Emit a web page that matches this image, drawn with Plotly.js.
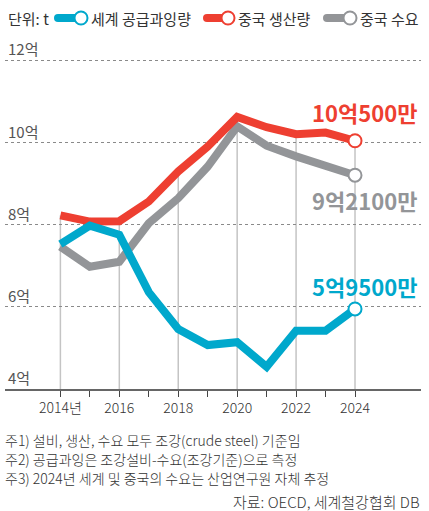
<!DOCTYPE html>
<html>
<head>
<meta charset="utf-8">
<script src="https://cdn.plot.ly/plotly-3.0.1.min.js"></script>
<style>
html,body{margin:0;padding:0;background:#fff;}
#chart{width:429px;height:511px;}
</style>
</head>
<body>
<div id="chart"></div>
<script>
// ---- data (values in 억 t) ----
const years = [2014, 2015, 2016, 2017, 2018, 2019, 2020, 2021, 2022, 2023, 2024];
const worldExcess = [7.53, 7.98, 7.76, 6.36, 5.46, 5.07, 5.14, 4.54, 5.42, 5.42, 5.95];
const chinaProduction = [8.23, 8.08, 8.09, 8.57, 9.30, 9.91, 10.63, 10.38, 10.21, 10.25, 10.05];
const chinaDemand = [7.47, 6.98, 7.10, 8.04, 8.65, 9.42, 10.40, 9.93, 9.67, 9.44, 9.21];
const seriesNames = ['세계 공급과잉량', '중국 생산량', '중국 수요'];
const endLabels = ['5억9500만', '10억500만', '9억2100만'];
const yTickVals = [4, 6, 8, 10, 12];
const yTickText = ['4억', '6억', '8억', '10억', '12억'];
const xLabelYears = [2014, 2016, 2018, 2020, 2022, 2024];
const xLabelText = ['2014년', '2016', '2018', '2020', '2022', '2024'];
const notes = [
  '주1) 설비, 생산, 수요 모두 조강(crude steel) 기준임',
  '주2) 공급과잉은 조강설비-수요(조강기준)으로 측정',
  '주3) 2024년 세계 및 중국의 수요는 산업연구원 자체 추정'
];
const source = '자료: OECD, 세계철강협회 DB';

// ---- styling ----
const BLUE = '#00a8cc', RED = '#ee3f31', GRAY = '#939598';
const FONT = '"Noto Sans CJK KR", "Noto Sans", sans-serif';
const W = 429, H = 511;
const L = 5, R = 421, T = 30, B = 389;
const PXPERUNIT = 41;
const px = x => (x - L) / (R - L);
const py = y => (B - y) / (B - T);
const last = a => a[a.length - 1];

function lineTrace(y, color, name) {
  return {x: years, y: y, mode: 'lines', name: name,
    line: {color: color, width: 8}, hoverinfo: 'skip', showlegend: false};
}
function endMarker(y, color) {
  return {x: [last(years)], y: [last(y)], mode: 'markers', showlegend: false, hoverinfo: 'skip',
    marker: {size: 13, color: '#fff', line: {color: color, width: 2}}};
}

const traces = [
  lineTrace(chinaDemand, GRAY, seriesNames[2]),
  lineTrace(chinaProduction, RED, seriesNames[1]),
  lineTrace(worldExcess, BLUE, seriesNames[0]),
  endMarker(chinaDemand, GRAY),
  endMarker(chinaProduction, RED),
  endMarker(worldExcess, BLUE)
];

// vertical drop lines at even years up to the production line
const shapes = [];
xLabelYears.forEach(yr => {
  const i = years.indexOf(yr);
  shapes.push({type: 'line', layer: 'below', xref: 'x', yref: 'y',
    x0: yr, x1: yr, y0: yTickVals[0], y1: chinaProduction[i],
    line: {color: '#c4c4c4', width: 1.5}});
});

// legend built with shapes + annotations
const annotations = [];
const legY = 18;
annotations.push({xref: 'paper', yref: 'paper', x: px(6), y: py(legY), xanchor: 'left', yanchor: 'middle',
  text: '단위: t', showarrow: false, font: {family: FONT, size: 15, color: '#333'}});
const legItems = [
  {x0: 55, cx: 81, tx: 89, color: BLUE, name: seriesNames[0]},
  {x0: 204, cx: 228, tx: 236, color: RED, name: seriesNames[1]},
  {x0: 324, cx: 350, tx: 358, color: GRAY, name: seriesNames[2]}
];
legItems.forEach(it => {
  shapes.push({type: 'line', xref: 'paper', yref: 'paper', x0: px(it.x0 + 3), x1: px(it.cx), y0: py(legY), y1: py(legY),
    line: {color: it.color, width: 8}});
  shapes.push({type: 'circle', xref: 'paper', yref: 'paper', x0: px(it.x0 - 1), x1: px(it.x0 + 7), y0: py(legY - 4), y1: py(legY + 4),
    fillcolor: it.color, line: {width: 0}});
  shapes.push({type: 'circle', xref: 'paper', yref: 'paper', x0: px(it.cx - 6.5), x1: px(it.cx + 6.5), y0: py(legY - 6.5), y1: py(legY + 6.5),
    fillcolor: '#fff', line: {color: it.color, width: 2}});
  annotations.push({xref: 'paper', yref: 'paper', x: px(it.tx), y: py(legY), xanchor: 'left', yanchor: 'middle',
    text: it.name, showarrow: false, font: {family: FONT, size: 15, color: '#333'}});
});

// end value labels
const endCfg = [
  {y: worldExcess, color: BLUE, shift: 23, text: endLabels[0]},
  {y: chinaProduction, color: RED, shift: 29, text: endLabels[1]},
  {y: chinaDemand, color: GRAY, shift: -25, text: endLabels[2]}
];
endCfg.forEach(c => {
  annotations.push({xref: 'x', yref: 'y', x: last(years), y: last(c.y), xanchor: 'right', yanchor: 'middle',
    xshift: 64, yshift: c.shift, showarrow: false, text: '<b>' + c.text + '</b>',
    font: {family: FONT, size: 22, color: c.color}});
});

// notes
const noteY = [439.5, 458.5, 477.5];
notes.forEach((n, i) => {
  annotations.push({xref: 'paper', yref: 'paper', x: px(4), y: py(noteY[i]), xanchor: 'left', yanchor: 'middle',
    borderpad: 0, text: n, showarrow: false, font: {family: FONT, size: 14, color: '#333', weight: 300}});
});
annotations.push({xref: 'paper', yref: 'paper', x: px(421), y: py(501), xanchor: 'right', yanchor: 'middle',
  borderpad: 0, text: source, showarrow: false, font: {family: FONT, size: 15, color: '#333', weight: 300}});

const layout = {
  width: W, height: H,
  margin: {l: L, r: W - R, t: T, b: H - B},
  paper_bgcolor: '#fff', plot_bgcolor: '#fff',
  showlegend: false,
  xaxis: {
    range: [2012.12, 2026.24], showgrid: false, zeroline: false,
    tickmode: 'array', tickvals: years,
    ticktext: years.map(y => { const k = xLabelYears.indexOf(y); return k >= 0 ? xLabelText[k] : ''; }),
    ticks: 'outside', ticklen: 6, tickwidth: 1, tickcolor: '#444',
    showline: true, linecolor: '#666', linewidth: 1.5,
    tickfont: {family: FONT, size: 14, color: '#333', weight: 300}, fixedrange: true
  },
  yaxis: {
    range: [4, 12 + (60.7 - T) / PXPERUNIT], zeroline: false,
    tickmode: 'array', tickvals: yTickVals, ticktext: yTickText,
    ticklabelposition: 'inside top', showgrid: true, gridcolor: '#8a8a8a', gridwidth: 1, griddash: 'dot',
    tickfont: {family: FONT, size: 15, color: '#555'}, ticks: '', fixedrange: true
  },
  shapes: shapes,
  annotations: annotations
};

Plotly.newPlot('chart', traces, layout, {displayModeBar: false, staticPlot: true});
</script>
</body>
</html>
